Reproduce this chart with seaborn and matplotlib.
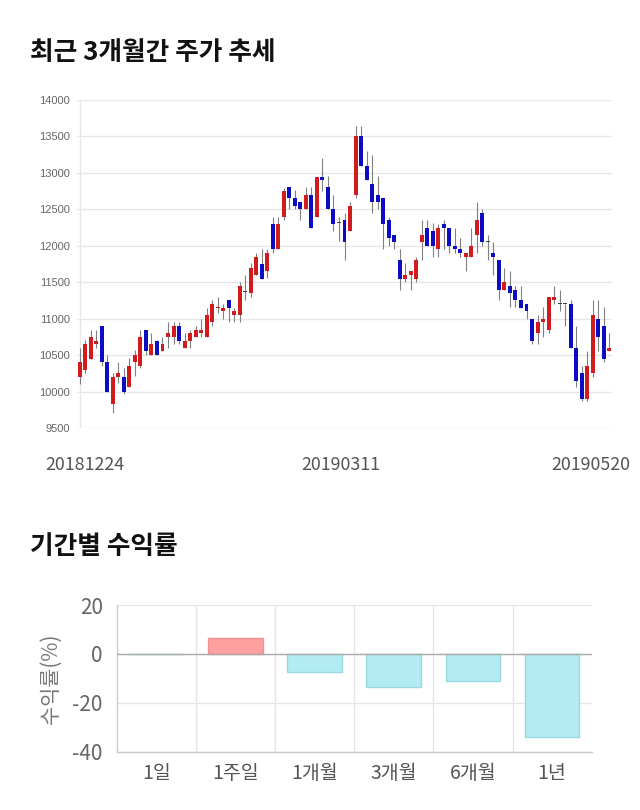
import numpy as np
import pandas as pd
import matplotlib
matplotlib.use("Agg")
import matplotlib.pyplot as plt
import seaborn as sns

# ---------------- data ----------------
opens = [10200, 10300, 10450, 10650, 10900, 10400, 9830, 10200, 10200, 10060,
         10400, 10350, 10850, 10500, 10700, 10550, 10750, 10750, 10900, 10600,
         10700, 10750, 10800, 10750, 10950, 11150, 11100, 11250, 11050, 11050,
         11360, 11350, 11600, 11750, 11650, 12300, 11950, 12400, 12800, 12650,
         12600, 12500, 12700, 12400, 12950, 12800, 12500, 12310, 12350, 12200,
         12700, 13500, 13100, 12850, 12700, 12650, 12350, 12150, 11800, 11550,
         11600, 11550, 12050, 12250, 12200, 11950, 12300, 12250, 12000, 11950,
         11850, 11850, 12150, 12450, 12050, 11900, 11800, 11400, 11450, 11400,
         11250, 11200, 11000, 10800, 10950, 10850, 11250, 11200, 11200, 11200,
         10600, 10250, 9900, 10250, 11000, 10900, 10550]
highs = [10600, 10710, 10850, 10850, 10900, 10500, 10260, 10400, 10320, 10460,
         10570, 10850, 10850, 10810, 10710, 10750, 10950, 10950, 10950, 10800,
         10850, 10900, 11000, 11150, 11260, 11300, 11200, 11250, 11150, 11500,
         11600, 11760, 11900, 11950, 11950, 12400, 12400, 12790, 12800, 12770,
         12600, 12800, 12800, 12950, 13200, 12960, 12700, 12400, 12450, 12600,
         13650, 13650, 13300, 13250, 12960, 12650, 12400, 12150, 11950, 11760,
         11650, 11850, 12350, 12350, 12310, 12300, 12350, 12250, 12250, 12100,
         11900, 12250, 12600, 12500, 12150, 12050, 11800, 11700, 11650, 11450,
         11450, 11200, 11000, 11050, 11160, 11300, 11450, 11400, 11200, 11260,
         10900, 10350, 10550, 11260, 11260, 11160, 10800]
lows = [10100, 10250, 10450, 10600, 10350, 10000, 9700, 10120, 9970, 10060,
        10210, 10320, 10500, 10500, 10500, 10550, 10600, 10650, 10650, 10600,
        10600, 10750, 10750, 10750, 10900, 11080, 11000, 10950, 10950, 10950,
        11260, 11300, 11600, 11550, 11560, 11900, 11950, 12350, 12500, 12500,
        12350, 12500, 12250, 12400, 12750, 12500, 12200, 12060, 11800, 12200,
        12650, 13100, 12900, 12450, 12500, 11950, 12000, 11950, 11400, 11500,
        11400, 11500, 11800, 12000, 11850, 11850, 11950, 11900, 11900, 11850,
        11650, 11850, 11900, 12000, 11800, 11600, 11260, 11400, 11160, 11160,
        11150, 11000, 10650, 10650, 10750, 10800, 11200, 11100, 10900, 10600,
        10060, 9865, 9865, 10200, 10550, 10400, 10550]
closes = [10400, 10650, 10750, 10700, 10400, 10000, 10200, 10250, 10000, 10350,
          10500, 10750, 10550, 10650, 10500, 10650, 10800, 10900, 10700, 10700,
          10800, 10850, 10850, 11050, 11200, 11160, 11150, 11150, 11100, 11450,
          11360, 11700, 11850, 11550, 11900, 11950, 12300, 12750, 12650, 12550,
          12500, 12700, 12250, 12950, 12900, 12500, 12300, 12310, 12050, 12550,
          13500, 13100, 12900, 12600, 12600, 12300, 12100, 12050, 11550, 11600,
          11650, 11800, 12150, 12000, 12000, 12250, 12250, 12000, 11950, 11900,
          11900, 12000, 12350, 12050, 12050, 11850, 11400, 11500, 11350, 11250,
          11150, 11100, 10700, 10950, 11000, 11300, 11300, 11200, 11200, 10600,
          10150, 9900, 10350, 11050, 10750, 10450, 10600]
date_labels = ["20181224", "20190311", "20190520"]
date_label_pos = [1.0, 47.4, 92.6]
price_ticks = [9500, 10000, 10500, 11000, 11500, 12000, 12500, 13000, 13500, 14000]

periods = ["1일", "1주일", "1개월", "3개월", "6개월", "1년"]
returns = [0.0, 6.5, -7.5, -13.4, -11.2, -34.1]
ret_ticks = [-40, -20, 0, 20]

# ---------------- style ----------------
sns.set_theme(style="white")
plt.rcParams["font.family"] = ["Noto Sans CJK KR", "DejaVu Sans"]
plt.rcParams["axes.unicode_minus"] = False

UP = "#d01c1f"
DOWN = "#0c0cc4"
DOJI = "#444444"
GRID = "#e6e6e6"

fig = plt.figure(figsize=(6.4, 8.1), dpi=100)
W, H = 640, 810

def ax_rect(x0, y0, x1, y1):
    return [x0 / W, 1 - y1 / H, (x1 - x0) / W, (y1 - y0) / H]

# ---------------- candle chart ----------------
ax1 = fig.add_axes(ax_rect(77, 100, 612, 428))
o = np.array(opens, float); h = np.array(highs, float)
l = np.array(lows, float); c = np.array(closes, float)
x = np.arange(len(o))
cols = [UP if cc > oo else (DOWN if cc < oo else DOJI) for oo, cc in zip(o, c)]
ax1.vlines(x, l, h, color="#808080", linewidth=0.8, zorder=2)
body_bottom = np.minimum(o, c)
body_h = np.maximum(np.abs(c - o), 14)
ax1.bar(x, body_h, bottom=body_bottom, width=0.72, color=cols, linewidth=0, zorder=3)
ax1.set_xlim(-0.5, len(o) - 0.5)
ax1.set_ylim(9500, 14000)
ax1.set_yticks(price_ticks)
ax1.set_yticklabels([str(t) for t in price_ticks], color="#666666", fontsize=8,
                    family=["Liberation Sans", "DejaVu Sans"])
ax1.yaxis.grid(True, color=GRID, linewidth=1)
ax1.axvline(0, color=GRID, linewidth=1, zorder=1)
ax1.set_xticks(date_label_pos)
ax1.set_xticklabels(date_labels, color="#555555", fontsize=12.8)
ax1.tick_params(axis="x", length=0, pad=20)
ax1.tick_params(axis="y", length=0, pad=5)
for s in ax1.spines.values():
    s.set_visible(False)

fig.text(30 / W, 1 - 53 / H, "최근 3개월간 주가 추세", fontsize=18.5, fontweight="bold",
         va="center", ha="left", color="#111111")
fig.text(30 / W, 1 - 546 / H, "기간별 수익률", fontsize=18.5, fontweight="bold",
         va="center", ha="left", color="#111111")

# ---------------- returns chart ----------------
ax2 = fig.add_axes(ax_rect(116.7, 605, 591.7, 751.7))
df = pd.DataFrame({"period": periods, "ret": returns})
df["sign"] = np.where(df["ret"] >= 0, "up", "down")
sns.barplot(data=df, x="period", y="ret", hue="sign",
            palette={"up": "#ffa0a0", "down": "#b3ebf3"}, dodge=False,
            saturation=1, width=0.69, legend=False, ax=ax2, zorder=3)
for p in ax2.patches:
    if p.get_height() > 0:
        p.set_edgecolor("#f59090")
    else:
        p.set_edgecolor("#98d8e3")
    p.set_linewidth(1)
ax2.set_ylim(-40, 20)
ax2.set_xlim(-0.5, len(periods) - 0.5)
ax2.set_yticks(ret_ticks)
ax2.set_yticklabels([str(t) for t in ret_ticks], color="#666666", fontsize=15)
ax2.yaxis.grid(True, color=GRID, linewidth=1, zorder=0)
ax2.axhline(0, color="#aaaaaa", linewidth=1, zorder=4)
ax2.set_xticks(np.arange(len(periods)))
ax2.set_xticklabels(periods, color="#555555", fontsize=14)
ax2.set_xticks(np.arange(0.5, len(periods) - 1, 1.0), minor=True)
ax2.xaxis.grid(True, which="minor", color=GRID, linewidth=1, zorder=0)
ax2.tick_params(axis="x", which="major", length=0, pad=8)
ax2.tick_params(axis="x", which="minor", length=8, color=GRID, width=1, direction="out")
ax2.tick_params(axis="y", length=0, pad=10)
ax2.set_xlabel("")
ax2.set_ylabel("수익률(%)", color="#777777", fontsize=15, labelpad=8)
for name, s in ax2.spines.items():
    if name in ("left", "bottom"):
        s.set_visible(True)
        s.set_color("#cccccc")
        s.set_linewidth(1)
    else:
        s.set_visible(False)

fig.savefig("out.png", dpi=100)
